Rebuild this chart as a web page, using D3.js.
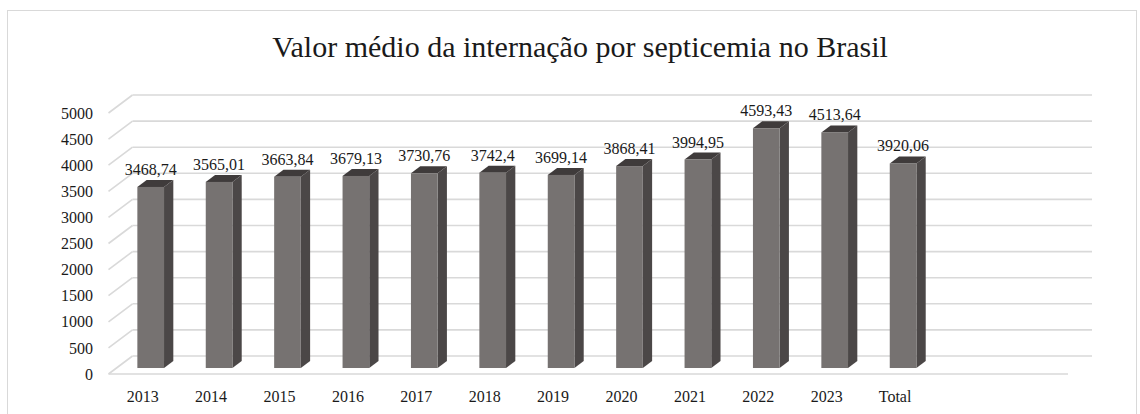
<!DOCTYPE html>
<html>
<head>
<meta charset="utf-8">
<script src="https://cdn.jsdelivr.net/npm/d3@7"></script>
<style>
  body { margin: 0; background: #fff; }
</style>
</head>
<body>
<svg id="chart"></svg>
<script>
var categories = ["2013", "2014", "2015", "2016", "2017", "2018", "2019", "2020", "2021", "2022", "2023", "Total"];
var values = [3468.74, 3565.01, 3663.84, 3679.13, 3730.76, 3742.4, 3699.14, 3868.41, 3994.95, 4593.43, 4513.64, 3920.06];
var valueLabels = ["3468,74", "3565,01", "3663,84", "3679,13", "3730,76", "3742,4", "3699,14", "3868,41", "3994,95", "4593,43", "4513,64", "3920,06"];
var yTicks = [0, 500, 1000, 1500, 2000, 2500, 3000, 3500, 4000, 4500, 5000];
var title = "Valor médio da internação por septicemia no Brasil";

var width = 1140, height = 414;
var serif = "Liberation Serif";

var svg = d3.select("#chart")
  .attr("width", width)
  .attr("height", height)
  .attr("font-family", serif);

// outer frame
svg.append("rect")
  .attr("x", 7.5).attr("y", 10.5)
  .attr("width", 1129).attr("height", 420)
  .attr("fill", "none")
  .attr("stroke", "#d9d9d9");

svg.append("text")
  .attr("x", 580)
  .attr("y", 57)
  .attr("text-anchor", "middle")
  .attr("font-family", serif)
  .attr("font-size", 30)
  .attr("fill", "#1a1a1a")
  .text(title);

// 3d depth of the floor
var depthX = 24, depthY = 18;
var floorLeft = 108.5, floorRight = 1068;
var step = 68.4;

var x = d3.scaleBand()
  .domain(categories)
  .range([floorLeft, floorLeft + step * categories.length])
  .paddingInner(0.61)
  .paddingOuter(0.305);

var y = d3.scaleLinear()
  .domain([0, 5000])
  .range([374, 113]);

var grid = svg.append("g").attr("class", "grid")
  .attr("stroke", "#d9d9d9")
  .attr("stroke-width", 1.6)
  .attr("fill", "none");

// side wall diagonals
grid.selectAll("line.side")
  .data(yTicks)
  .enter().append("line")
    .attr("class", "side")
    .attr("x1", floorLeft)
    .attr("y1", function(d) { return y(d); })
    .attr("x2", floorLeft + depthX)
    .attr("y2", function(d) { return y(d) - depthY; });

// back wall lines
grid.selectAll("line.back")
  .data(yTicks)
  .enter().append("line")
    .attr("class", "back")
    .attr("x1", floorLeft + depthX)
    .attr("y1", function(d) { return y(d) - depthY; })
    .attr("x2", floorRight + depthX)
    .attr("y2", function(d) { return y(d) - depthY; });

// floor front edge
grid.append("line")
  .attr("x1", floorLeft).attr("y1", y(0))
  .attr("x2", floorRight).attr("y2", y(0));

// y axis labels
svg.append("g")
  .selectAll("text")
  .data(yTicks)
  .enter().append("text")
    .attr("x", 93)
    .attr("y", function(d) { return y(d); })
    .attr("dy", "0.35em")
    .attr("text-anchor", "end")
    .attr("font-family", serif)
    .attr("font-size", 16)
    .attr("fill", "#1a1a1a")
    .text(function(d) { return d; });

// x axis labels
svg.append("g")
  .selectAll("text")
  .data(categories)
  .enter().append("text")
    .attr("x", function(d) { return x(d) + x.bandwidth() / 2; })
    .attr("y", 402)
    .attr("text-anchor", "middle")
    .attr("font-family", serif)
    .attr("font-size", 16)
    .attr("fill", "#1a1a1a")
    .text(function(d) { return d; });

// bars: front plane and back plane as fractions of the floor depth
var f0 = 0.333, f1 = 0.72;
var bw = x.bandwidth();
var sx = (f1 - f0) * depthX, sy = (f1 - f0) * depthY;

var bars = svg.append("g")
  .selectAll("g")
  .data(categories)
  .enter().append("g");

function barLeft(i) { return x(categories[i]) + f0 * depthX; }
function barTop(i) { return y(values[i]) - f0 * depthY; }
var barBottom = y(0) - f0 * depthY;

bars.append("polygon")
  .attr("fill", "#4b4747")
  .attr("points", function(d, i) {
    var xr = barLeft(i) + bw, yt = barTop(i);
    return [[xr, yt], [xr + sx, yt - sy], [xr + sx, barBottom - sy], [xr, barBottom]].join(" ");
  });

bars.append("polygon")
  .attr("fill", "#3f3b3b")
  .attr("points", function(d, i) {
    var xl = barLeft(i), yt = barTop(i);
    return [[xl, yt], [xl + bw, yt], [xl + bw + sx, yt - sy], [xl + sx, yt - sy]].join(" ");
  });

bars.append("rect")
  .attr("fill", "#767271")
  .attr("x", function(d, i) { return barLeft(i); })
  .attr("y", function(d, i) { return barTop(i); })
  .attr("width", bw)
  .attr("height", function(d, i) { return barBottom - barTop(i); });

bars.append("text")
  .attr("x", function(d, i) { return barLeft(i) + bw / 2; })
  .attr("y", function(d, i) { return barTop(i) - sy - 5; })
  .attr("text-anchor", "middle")
  .attr("font-family", serif)
  .attr("font-size", 16)
  .attr("fill", "#1a1a1a")
  .text(function(d, i) { return valueLabels[i]; });
</script>
</body>
</html>
